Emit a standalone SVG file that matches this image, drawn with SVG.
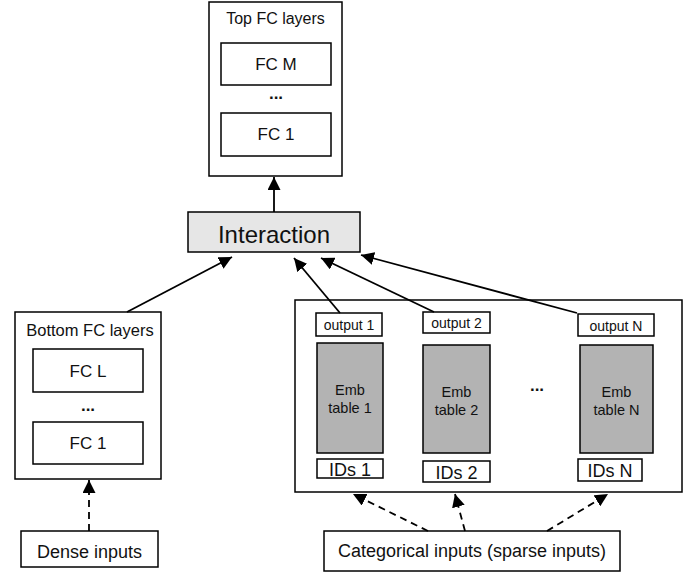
<svg xmlns="http://www.w3.org/2000/svg" width="697" height="573" viewBox="0 0 697 573">
  <style>
    .box { fill: #ffffff; stroke: #000000; stroke-width: 1.5; }
    .frame { fill: none; stroke: #000000; stroke-width: 1.5; }
    .emb { fill: #b3b3b3; stroke: #000000; stroke-width: 1.5; }
    .inter { fill: #e6e6e6; stroke: #000000; stroke-width: 1.5; }
    text { font-family: "Liberation Sans", Arial, sans-serif; fill: #111111; text-anchor: middle; }
    .edge { stroke: #000000; stroke-width: 1.8; fill: none; }
    .dash { stroke-dasharray: 7 5; }
  </style>
  <defs>
    <marker id="head" viewBox="0 0 10 10" refX="10" refY="5" markerWidth="13" markerHeight="13" markerUnits="userSpaceOnUse" orient="auto">
      <path d="M0,0 L10,5 L0,10 z" fill="#000000"/>
    </marker>
  </defs>

  <g id="top-fc">
    <rect class="box" x="209" y="2" width="133" height="174"/>
    <text x="275.5" y="24" font-size="16">Top FC layers</text>
    <rect class="box" x="221" y="43" width="110" height="42"/>
    <text x="276" y="70" font-size="17">FC M</text>
    <text x="276" y="99" font-size="17" font-weight="bold">...</text>
    <rect class="box" x="221" y="113" width="110" height="43"/>
    <text x="276" y="140" font-size="17">FC 1</text>
  </g>

  <g id="interaction">
    <rect class="inter" x="188" y="212" width="172" height="40"/>
    <text x="274" y="243" font-size="24">Interaction</text>
  </g>

  <g id="bottom-fc">
    <rect class="box" x="15" y="312" width="146" height="167"/>
    <text x="90" y="336" font-size="16.5">Bottom FC layers</text>
    <rect class="box" x="33" y="349" width="110" height="43"/>
    <text x="88" y="377" font-size="17">FC L</text>
    <text x="88" y="411" font-size="17" font-weight="bold">...</text>
    <rect class="box" x="33" y="422" width="110" height="42"/>
    <text x="88" y="449" font-size="17">FC 1</text>
  </g>

  <g id="dense-inputs">
    <rect class="box" x="21" y="531" width="137" height="36"/>
    <text x="89.5" y="558" font-size="18">Dense inputs</text>
  </g>

  <g id="embeddings">
    <rect class="frame" x="295" y="300" width="387" height="192"/>

    <g id="emb-1">
      <rect class="box" x="316" y="313" width="66" height="23"/>
      <text x="349" y="330" font-size="14">output 1</text>
      <rect class="emb" x="317" y="343" width="66" height="110"/>
      <text x="350" y="395" font-size="14.5">Emb</text>
      <text x="350" y="413" font-size="14.5">table 1</text>
      <rect class="box" x="317" y="459" width="66" height="19"/>
      <text x="350" y="476" font-size="18">IDs 1</text>
    </g>

    <g id="emb-2">
      <rect class="box" x="423" y="312" width="67" height="21"/>
      <text x="456.5" y="328" font-size="14">output 2</text>
      <rect class="emb" x="423" y="345" width="67" height="108"/>
      <text x="456.5" y="397" font-size="14.5">Emb</text>
      <text x="456.5" y="415" font-size="14.5">table 2</text>
      <rect class="box" x="423" y="461" width="67" height="21"/>
      <text x="456.5" y="478.5" font-size="18">IDs 2</text>
    </g>

    <text x="537" y="391" font-size="17" font-weight="bold">...</text>

    <g id="emb-n">
      <rect class="box" x="578" y="314" width="76" height="22"/>
      <text x="616" y="331" font-size="14">output N</text>
      <rect class="emb" x="580" y="345" width="73" height="108"/>
      <text x="616.5" y="397" font-size="14.5">Emb</text>
      <text x="616.5" y="415" font-size="14.5">table N</text>
      <rect class="box" x="578" y="459" width="64" height="22"/>
      <text x="610" y="477" font-size="18">IDs N</text>
    </g>
  </g>

  <g id="categorical-inputs">
    <rect class="box" x="324" y="531" width="296" height="40"/>
    <text x="472" y="557" font-size="18">Categorical inputs (sparse inputs)</text>
  </g>

  <g id="connectors">
    <line class="edge" x1="274" y1="212" x2="274" y2="177" marker-end="url(#head)"/>
    <line class="edge" x1="127" y1="312" x2="232" y2="257" marker-end="url(#head)"/>
    <line class="edge" x1="340" y1="313" x2="294" y2="258" marker-end="url(#head)"/>
    <line class="edge" x1="434" y1="312" x2="321" y2="258" marker-end="url(#head)"/>
    <line class="edge" x1="577" y1="313" x2="361" y2="255" marker-end="url(#head)"/>
    <line class="edge dash" x1="89" y1="531" x2="89" y2="480" marker-end="url(#head)"/>
    <line class="edge dash" x1="428" y1="531" x2="353" y2="494" marker-end="url(#head)"/>
    <line class="edge dash" x1="465" y1="531" x2="455" y2="494" marker-end="url(#head)"/>
    <line class="edge dash" x1="547" y1="531" x2="608" y2="494" marker-end="url(#head)"/>
  </g>
</svg>
